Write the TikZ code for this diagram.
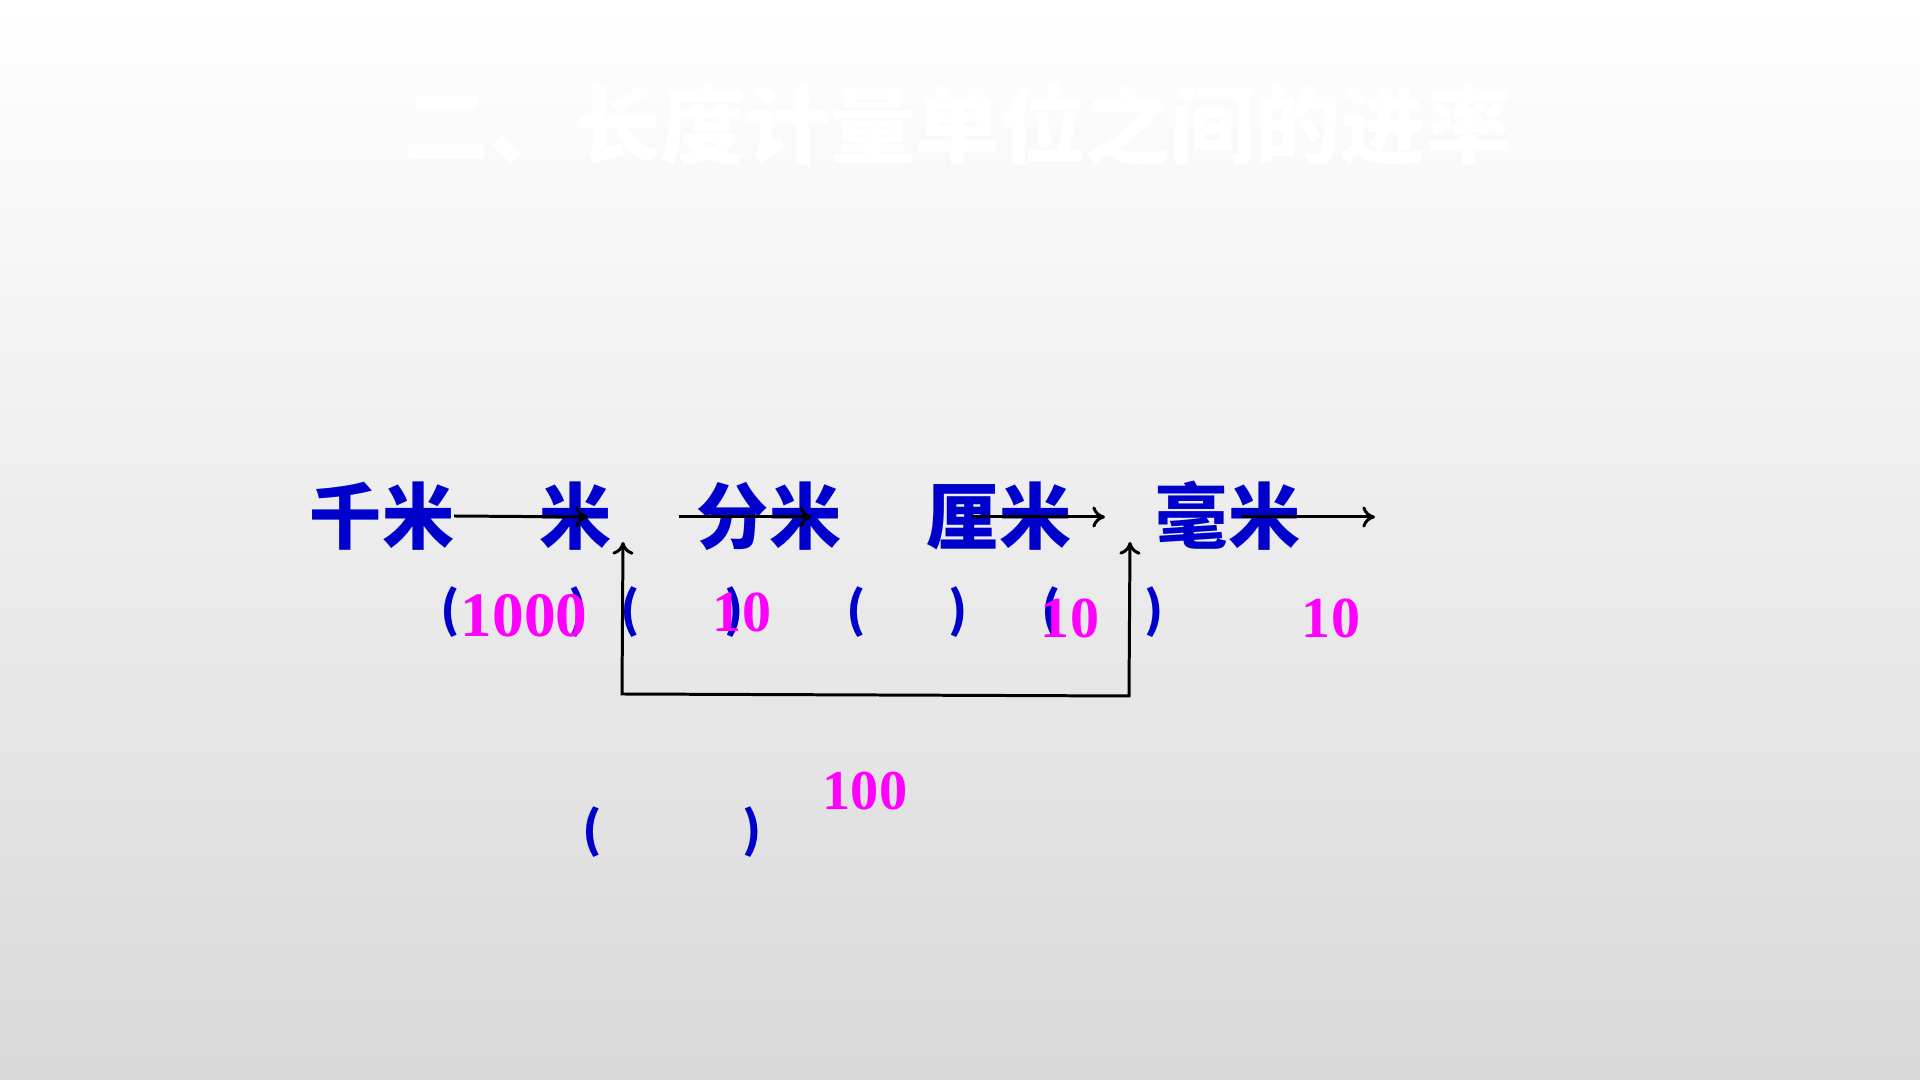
\documentclass[tikz,border=0pt]{standalone}
\usepackage{fontspec}
\usepackage{tikz}
\usetikzlibrary{positioning,arrows.meta}
\newfontfamily\cjk{Noto Sans CJK SC}
\newfontfamily\numfont{Liberation Serif}
\definecolor{unitblue}{RGB}{0,0,204}
\definecolor{numpink}{RGB}{255,0,255}
\begin{document}
\begin{tikzpicture}[
                x=0.01cm,y=-0.01cm,
                >={To[length=3.6pt,width=6pt]},
                every node/.style={inner sep=0pt,outer sep=0pt},
                titletext/.style={font=\cjk\bfseries\fontsize{24.2}{28}\selectfont,text=white},
                unit/.style={font=\cjk\bfseries\fontsize{20.5}{24}\selectfont,text=unitblue},
                paren/.style={font=\cjk\bfseries\fontsize{13.8}{16}\selectfont,text=unitblue},
                rate/.style={font=\numfont\bfseries\fontsize{16.5}{19}\selectfont,text=numpink,anchor=base},
                link/.style={line width=0.85pt}
            ]
                \useasboundingbox (0,0) rectangle (1920,1080);
                \shade[top color=white,bottom color=black!15] (0,0) rectangle (1920,1080);
                \node[titletext] (title) at (958,125) {二、长度计量单位之间的进率};
                % units
                \node[unit] (km) at (382,516)  {千米};
                \node[unit] (m)  at (576,516)  {米};
                \node[unit] (dm) at (769,516)  {分米};
                \node[unit] (cm) at (999,516)  {厘米};
                \node[unit] (mm) at (1228,516) {毫米};
                \coordinate (km-m)  at (588,517);
                \coordinate (m-dm)  at (679,517);
                \coordinate (dm-in) at (812,517);
                \coordinate (cm-in) at (972,517);
                \coordinate (cm-mm) at (1105,517);
                \coordinate (mm-in) at (1242,517);
                \coordinate (mm-out) at (1375,517);
                \draw[link,->] (km.east) -- (km-m);
                \draw[link,->] (m-dm) -- (dm-in);
                \draw[link,->] (cm-in) -- (cm-mm);
                \draw[link,->] (mm-in) -- (mm-out);
                % blanks
                \node[paren] (lp1) at (450,612)  {(};
                \node[paren] (rp1) at (578,612)  {)};
                \node[paren] (lp2) at (630,612)  {(};
                \node[paren] (rp2) at (734,612)  {)};
                \node[paren] (lp3) at (856,612)  {(};
                \node[paren] (rp3) at (958,612)  {)};
                \node[paren] (lp4) at (1051,612) {(};
                \node[paren] (rp4) at (1154,612) {)};
                \node[paren] (lp5) at (592,832)  {(};
                \node[paren] (rp5) at (752,832)  {)};
                % rates
                \node[rate,font=\numfont\bfseries\fontsize{18}{21}\selectfont] (r1) at (524,637) {1000};
                \node[rate] (r2) at (742,632)  {10};
                \node[rate] (r3) at (1070,638) {10};
                \node[rate] (r4) at (1331,638) {10};
                \node[rate,font=\numfont\bfseries\fontsize{16}{19}\selectfont] (r5) at (865,810) {100};
                % m to cm
                \coordinate (m-up)   at (623,542);
                \coordinate (m-down) at (622,694);
                \coordinate (cm-down) at (1129,696);
                \coordinate (cm-up)  at (1130,542);
                \draw[link,<->] (m-up) -- (m-down) -- (cm-down) -- (cm-up);
            \end{tikzpicture}
\end{document}
